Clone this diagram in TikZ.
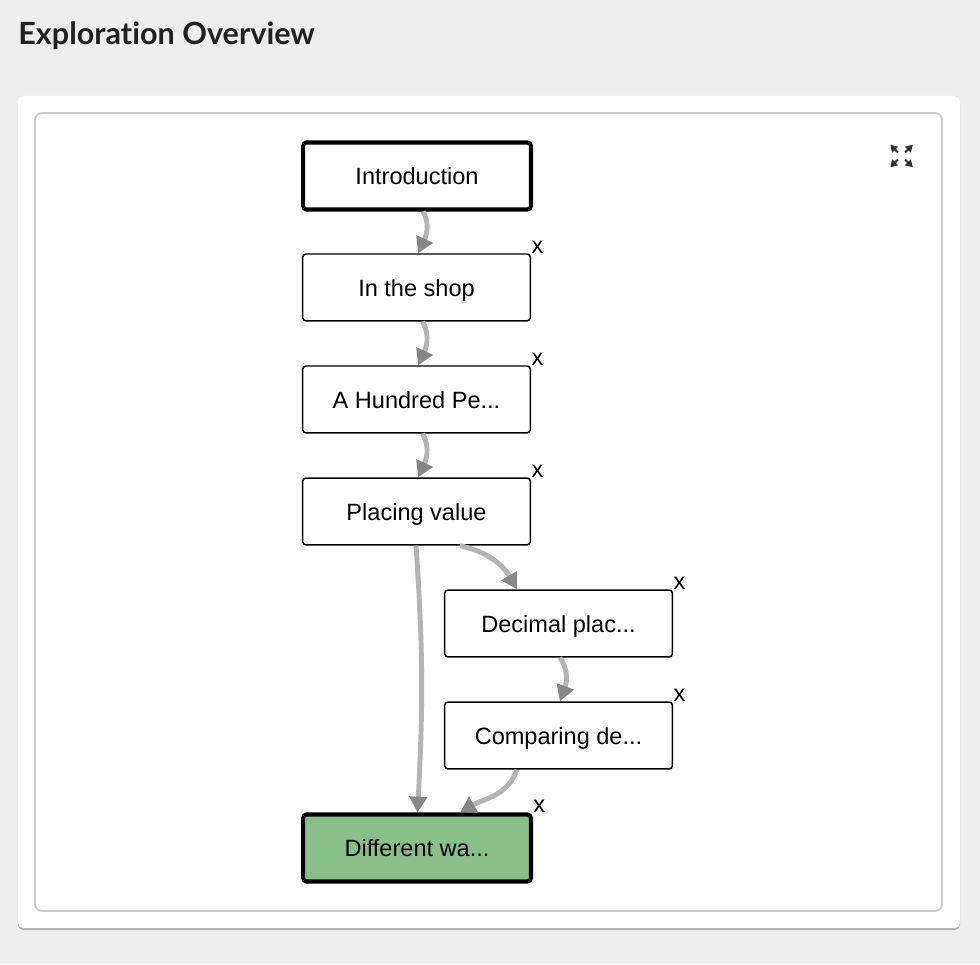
\documentclass[tikz,border=0pt]{standalone}
\usepackage{fontspec}
\setmainfont{Liberation Sans}
\newfontfamily\headfont[Ligatures=NoCommon]{Lato}
\usepackage{xcolor}
\definecolor{Page Grey}{HTML}{EEEEEE}
\definecolor{Panel Line}{HTML}{CCCCCC}
\definecolor{Edge Grey}{HTML}{B4B4B4}
\definecolor{Tip Grey}{HTML}{888888}
\definecolor{Leaf Green}{HTML}{88C08A}
\colorlet{cPage}{Page Grey}
\colorlet{cPanel}{Panel Line}
\colorlet{cEdge}{Edge Grey}
\colorlet{cTip}{Tip Grey}
\colorlet{cGreen}{Leaf Green}
\usepackage{tikz}
\usetikzlibrary{arrows.meta}
\tikzset{
	x = 0.02cm,
	y = 0.02cm,
	state/.style={
		draw,
		fill=white,
		rounded corners=2pt,
		line width=.85pt,
		minimum width=4.56cm,
		minimum height=1.34cm,
		inner sep=0pt,
		text depth=0pt,
		font=\fontsize{13.4}{16}\selectfont
	},
	current/.style={
		state,
		line width=2.3pt
	},
	goal/.style={
		current,
		fill=cGreen
	},
	remove/.style={
		anchor=base west,
		inner sep=0pt,
		font=\fontsize{13.4}{16}\selectfont
	},
	edge/.style={
		draw=cEdge,
		line width=2.8pt,
		-{Triangle[length=9pt,width=10pt,color=cTip]}
	},
	expandarrow/.style={
		draw=black!80,
		line width=1.1pt,
		-{Triangle[length=4pt,width=4.5pt]}
	}
}

\begin{document}
\begin{tikzpicture}
	\useasboundingbox (0,0) rectangle (980,964);
	\fill[cPage] (0,0) rectangle (980,964);

	% card and panel
	\fill[black!30, rounded corners=3pt] (18,34) rectangle (960,866);
	\fill[white, rounded corners=3pt] (18,36) rectangle (960,868);
	\draw[cPanel, line width=1.1pt, rounded corners=4pt] (35,53) rectangle (942,851);

	\node[anchor=base west, inner sep=0pt, text=black!87, font=\headfont\bfseries\fontsize{17.4}{20}\selectfont] (title) at (18,919) {Exploration Overview};

	% states
	\node[current] (intro) at (417,788) {Introduction};
	\node[state] (shop) at (416.5,676.5) {In the shop};
	\node[state] (hundred) at (416.5,564.5) {A Hundred Pe...};
	\node[state] (placing) at (416.5,452.5) {Placing value};
	\node[state] (decimal) at (558.5,340.5) {Decimal plac...};
	\node[state] (comparing) at (558.5,228.5) {Comparing de...};
	\node[goal] (different) at (417,116) {Different wa...};

	\node[remove] (xshop) at (shop.north east) {x};
	\node[remove] (xhundred) at (hundred.north east) {x};
	\node[remove] (xplacing) at (placing.north east) {x};
	\node[remove] (xdecimal) at (decimal.north east) {x};
	\node[remove] (xcomparing) at (comparing.north east) {x};
	\node[remove] (xdifferent) at (different.north east) {x};

	% links
	\draw[edge] ([shift={(6,0)}]intro.south) to[out=-60, in=65] ([shift={(1.5,0)}]shop.north);
	\draw[edge] ([shift={(6,0)}]shop.south) to[out=-60, in=65] ([shift={(1.5,0)}]hundred.north);
	\draw[edge] ([shift={(6,0)}]hundred.south) to[out=-60, in=65] ([shift={(1.5,0)}]placing.north);
	\draw[edge] ([shift={(43.5,0)}]placing.south) to[out=-12, in=120] ([shift={(-41.5,0)}]decimal.north);
	\draw[edge] ([shift={(-0.5,0)}]placing.south) to[out=-86, in=87] ([shift={(0.5,0)}]different.north);
	\draw[edge] ([shift={(1.5,0)}]decimal.south) to[out=-55, in=70] ([shift={(1.5,0)}]comparing.north);
	\draw[edge] ([shift={(-41.5,0)}]comparing.south) to[out=-110, in=30] ([shift={(43,0)}]different.north);

	% expand icon
	\coordinate (expand) at (901.5,808);
	\foreach \a in {45,135,225,315}
		\draw[expandarrow] ([shift={(\a:5)}]expand) -- ([shift={(\a:16)}]expand);
\end{tikzpicture}
\end{document}
